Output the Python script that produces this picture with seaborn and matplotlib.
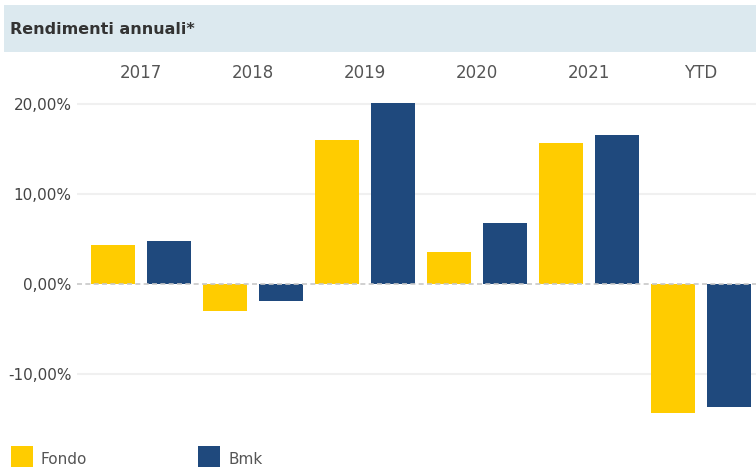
import matplotlib
matplotlib.use("Agg")
import matplotlib.pyplot as plt
from matplotlib.patches import Rectangle
import seaborn as sns
import pandas as pd

categories = ["2017", "2018", "2019", "2020", "2021", "YTD"]
fondo = [4.33, -3.0, 16.0, 3.55, 15.7, -14.3]
bmk = [4.78, -1.9, 20.1, 6.8, 16.6, -13.65]
series_names = ["Fondo", "Bmk"]
colors = ["#FFCC00", "#1F497D"]
y_ticks = [-10, 0, 10, 20]

sns.set_theme(style="white")
plt.rcParams["font.family"] = ["DejaVu Sans"]

df = pd.DataFrame({
    "cat": categories * 2,
    "val": fondo + bmk,
    "serie": [series_names[0]] * len(categories) + [series_names[1]] * len(categories),
})

W, H = 756, 467
fig = plt.figure(figsize=(W / 100, H / 100), dpi=100)
ax = fig.add_axes([77 / W, (H - 425) / H, 1 - 77 / W, (425 - 88) / H])

sns.barplot(data=df, x="cat", y="val", hue="serie", order=categories,
            hue_order=series_names, palette=colors, width=1.0, gap=0.22,
            saturation=1, legend=False, ax=ax, zorder=2, linewidth=0)

ax.set_xlim(-0.57, 5.49)
ax.set_ylim(-15.67, 21.78)
ax.set_yticks(y_ticks)
ax.set_yticklabels([f"{v:.2f}%".replace(".", ",") for v in y_ticks])
for v in y_ticks:
    if v == 0:
        ax.axhline(0, color="#c8c8c8", lw=1.2, ls=(0, (3, 2)), zorder=3)
    else:
        ax.axhline(v, color="#f0f0f0", lw=1.5, zorder=1)

ax.xaxis.tick_top()
ax.set_xlabel("")
ax.set_ylabel("")
ax.tick_params(axis="x", length=0, pad=4, labelsize=12, labelcolor="#555555")
ax.tick_params(axis="y", length=0, pad=4, labelsize=11, labelcolor="#444444")
for s in ax.spines.values():
    s.set_visible(False)

# header band
fig.add_artist(Rectangle((4 / W, (H - 52) / H), 1 - 4 / W, 47 / H,
                         transform=fig.transFigure, facecolor="#DCE9EF",
                         edgecolor="none", zorder=0))
fig.text(10 / W, (H - 29) / H, "Rendimenti annuali*", fontsize=11.5,
         fontweight="bold", color="#333333", va="center", ha="left")

# legend
for x0, name, c in [(11, series_names[0], colors[0]), (198, series_names[1], colors[1])]:
    fig.add_artist(Rectangle((x0 / W, 0), 22 / W, 21 / H,
                             transform=fig.transFigure, facecolor=c,
                             edgecolor="none"))
    fig.text((x0 + 30) / W, (H - 459) / H, name, fontsize=11,
             color="#555555", va="center", ha="left")

fig.savefig("out.png", dpi=100)
